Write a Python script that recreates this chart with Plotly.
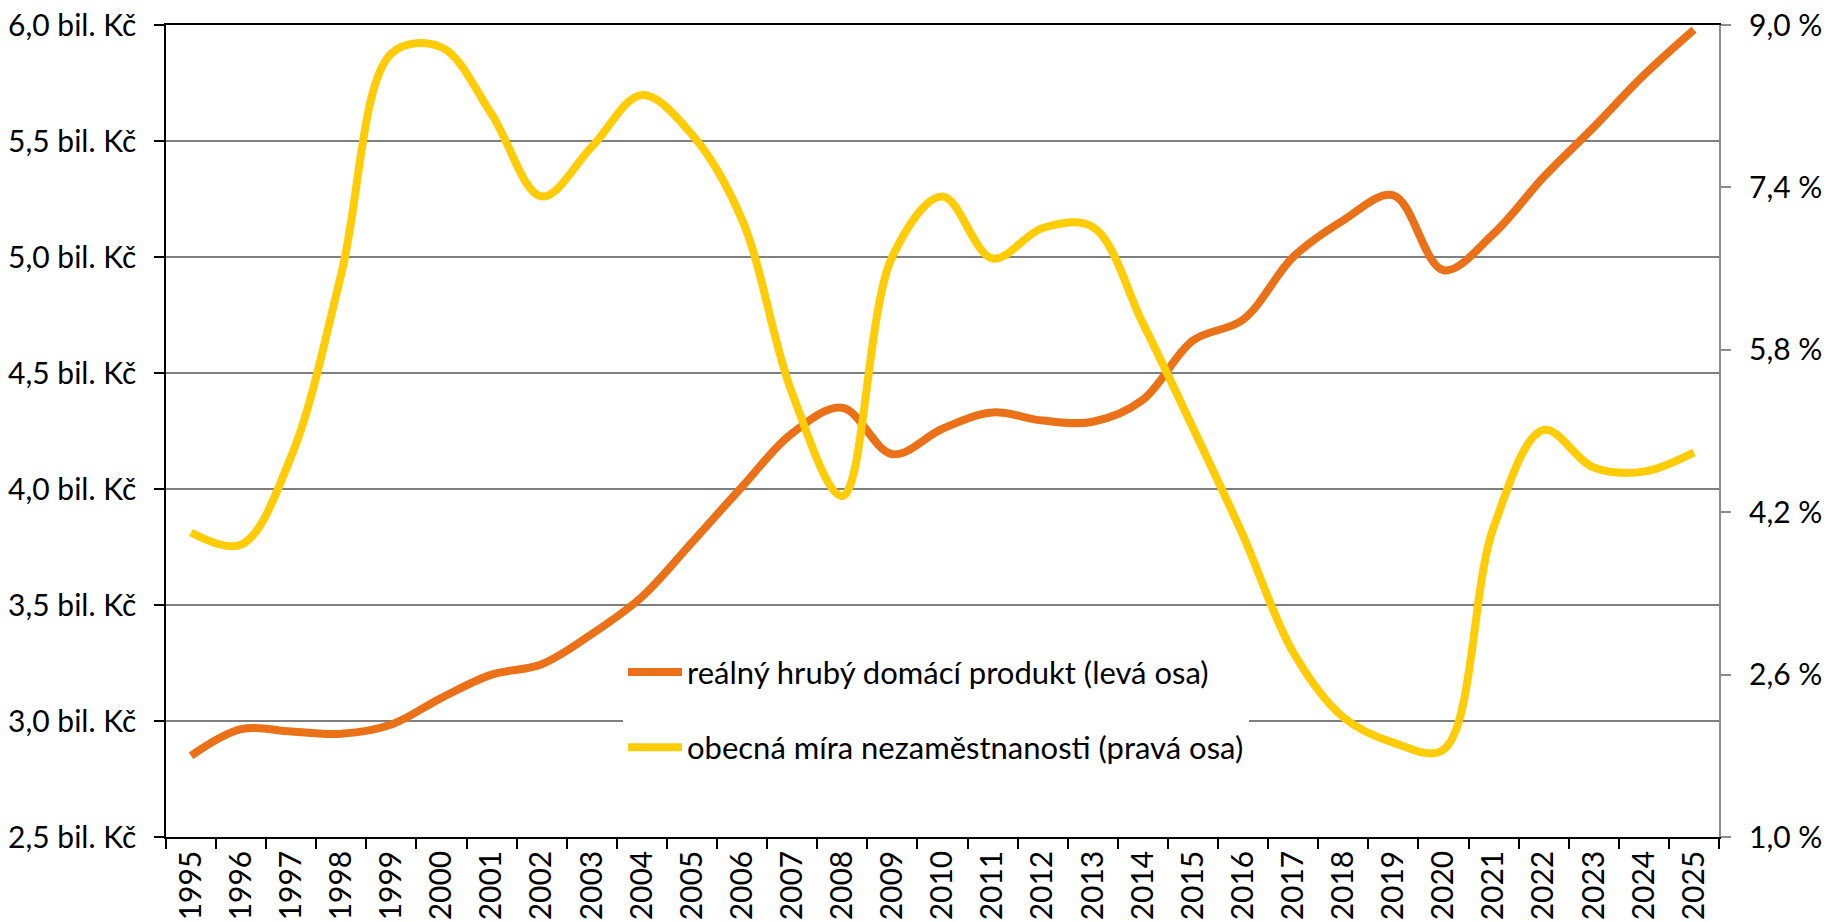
import plotly.graph_objects as go

years = [str(y) for y in range(1995, 2026)]

hdp = [2.85, 2.965, 2.955, 2.945, 2.985, 3.10, 3.20, 3.245, 3.375, 3.535,
       3.77, 4.01, 4.24, 4.35, 4.15, 4.26, 4.33, 4.295, 4.29, 4.385,
       4.64, 4.73, 5.0, 5.158, 5.266, 4.943, 5.10, 5.345, 5.56, 5.784, 5.98]

nezam = [4.0, 3.88, 4.75, 6.55, 8.72, 8.78, 8.12, 7.31, 7.8, 8.31,
         7.92, 7.08, 5.37, 4.36, 6.72, 7.31, 6.70, 7.0, 7.01, 6.06,
         5.03, 3.97, 2.82, 2.18, 1.93, 1.86, 4.05, 5.01, 4.64, 4.6, 4.79]

left_vals = [2.5, 3.0, 3.5, 4.0, 4.5, 5.0, 5.5, 6.0]
left_text = ["2,5 bil. Kč", "3,0 bil. Kč", "3,5 bil. Kč", "4,0 bil. Kč",
             "4,5 bil. Kč", "5,0 bil. Kč", "5,5 bil. Kč", "6,0 bil. Kč"]
right_vals = [1.0, 2.6, 4.2, 5.8, 7.4, 9.0]
right_text = ["1,0 %", "2,6 %", "4,2 %", "5,8 %", "7,4 %", "9,0 %"]

name_hdp = "reálný hrubý domácí produkt (levá osa)"
name_nez = "obecná míra nezaměstnanosti (pravá osa)"

FONT = "Lato"
FS = 30

fig = go.Figure()
fig.add_trace(go.Scatter(
    x=years, y=hdp, name=name_hdp, mode="lines", legendgroup="a",
    line=dict(color="#EB7119", width=8, shape="spline", smoothing=1.0),
    yaxis="y"))
fig.add_trace(go.Scatter(
    x=years, y=nezam, name=name_nez, mode="lines", legendgroup="b",
    line=dict(color="#FFCC05", width=8, shape="spline", smoothing=1.0),
    yaxis="y2"))

fig.update_layout(
    width=1828, height=922,
    margin=dict(l=166, r=109, t=25, b=85, autoexpand=False),
    paper_bgcolor="white", plot_bgcolor="white",
    font=dict(family=FONT, size=FS, color="black"),
    showlegend=True,
    legend=dict(
        x=(623 - 166) / 1553, xanchor="left", y=0.236, yanchor="top",
        bgcolor="white", borderwidth=0,
        font=dict(family=FONT, size=31, color="black"),
        tracegroupgap=32, traceorder="grouped",
        itemwidth=54,
    ),
    xaxis=dict(
        type="category", range=[-0.5, 30.5], automargin=False,
        showline=True, linecolor="black", linewidth=1.5, mirror=True,
        ticks="outside", ticklen=10, tickcolor="black", tickwidth=1.5,
        tickson="boundaries", tickangle=-90,
        showgrid=False, zeroline=False,
        tickfont=dict(family=FONT, size=FS, color="black"),
    ),
    yaxis=dict(
        range=[2.5, 6.0], tickvals=left_vals, ticktext=left_text,
        automargin=False, ticklabeloverflow="allow",
        showline=True, linecolor="black", linewidth=1.5,
        ticks="outside", ticklen=10, tickcolor="black", tickwidth=1.5,
        ticklabelstandoff=12,
        showgrid=True, gridcolor="#7f7f7f", gridwidth=1.5,
        zeroline=False,
        tickfont=dict(family=FONT, size=FS, color="black"),
    ),
    yaxis2=dict(
        range=[1.0, 9.0], tickvals=right_vals, ticktext=right_text,
        overlaying="y", side="right", automargin=False,
        ticklabeloverflow="allow",
        showline=True, linecolor="#8c8c8c", linewidth=2,
        ticks="outside", ticklen=10, tickcolor="#8c8c8c", tickwidth=2,
        ticklabelstandoff=12,
        showgrid=False, zeroline=False,
        tickfont=dict(family=FONT, size=FS, color="black"),
    ),
)

fig.write_html("out.html",
               config={"displayModeBar": False},
               post_script="document.body.style.margin='0';document.body.style.overflow='hidden';")
